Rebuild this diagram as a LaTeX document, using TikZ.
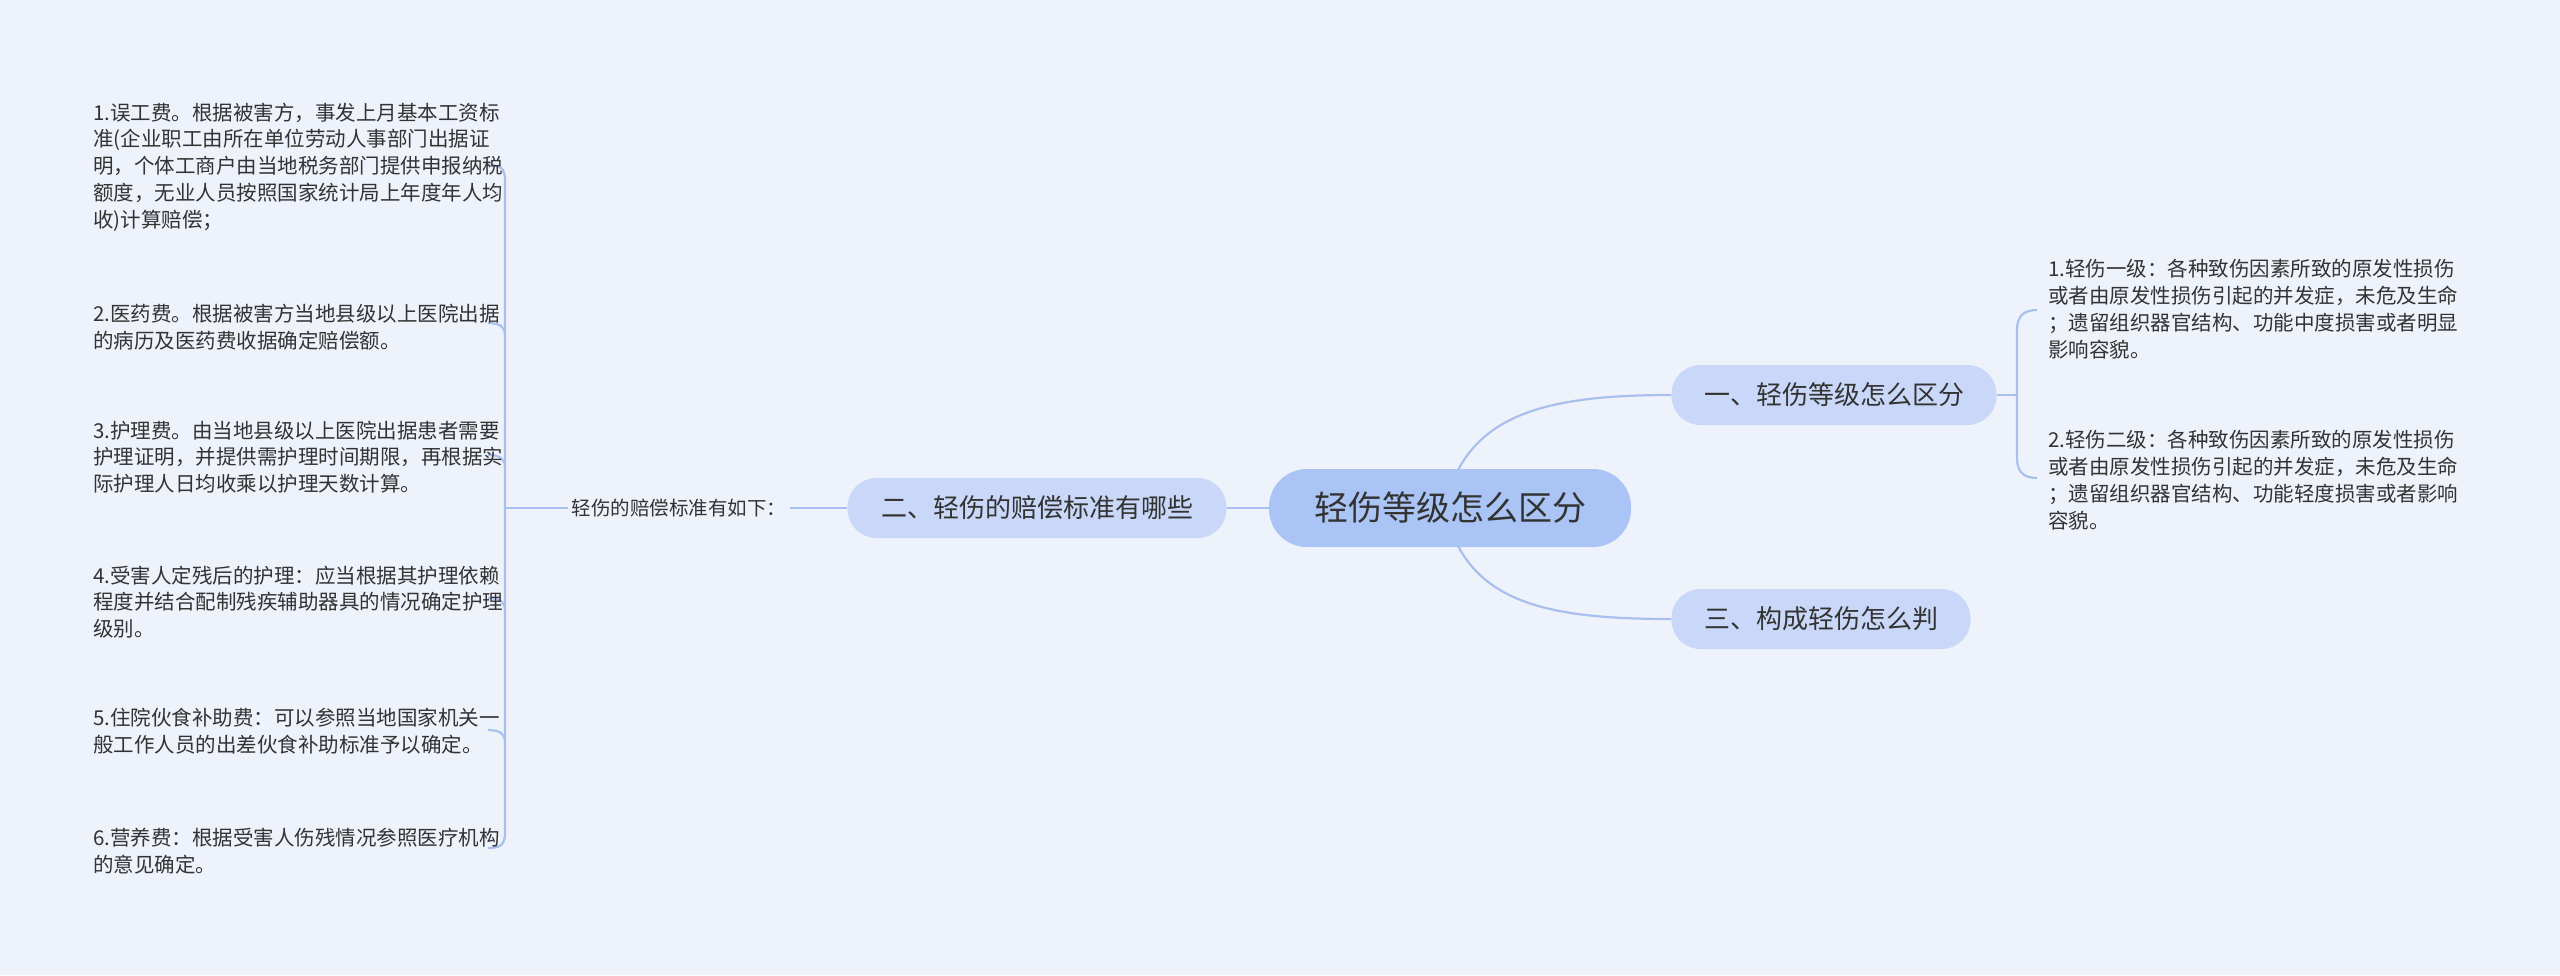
\documentclass[tikz,border=0pt]{standalone}
\usepackage{fontspec}
\setmainfont{Noto Sans CJK SC}
\begin{document}
\begin{tikzpicture}[x=1pt,y=-1pt,
  conn/.style={draw=lineblue,line width=2.2pt},
  topic/.style={fill=nodeblue,rounded corners=29pt,minimum width=#1,minimum height=60pt,text=textc,font=\fontsize{26}{30}\selectfont},
  leaf/.style={anchor=west,align=left,text=textc,font=\fontsize{20.5}{26.8}\selectfont,inner sep=0pt}]
\definecolor{bg}{HTML}{EEF2FB}
\definecolor{lineblue}{HTML}{A9C0EE}
\definecolor{nodeblue}{HTML}{C9D8F8}
\definecolor{rootblue}{HTML}{AAC4F6}
\definecolor{textc}{HTML}{333333}
\fill[bg] (0,0) rectangle (2560,975);
\useasboundingbox (0,0) rectangle (2560,975);
\node[fill=rootblue,rounded corners=38pt,minimum width=362pt,minimum height=78pt,text=textc,font=\fontsize{34}{38}\selectfont] (root) at (1450,508) {轻伤等级怎么区分};
\node[topic=325pt] (n1) at (1834,395) {一、轻伤等级怎么区分};
\node[topic=299pt] (n3) at (1821,619) {三、构成轻伤怎么判};
\node[topic=379pt] (n2) at (1037,508) {二、轻伤的赔偿标准有哪些};
\node[text=textc,font=\fontsize{19.5}{24}\selectfont,inner sep=4pt] (lab) at (679,508) {轻伤的赔偿标准有如下：};
\coordinate (r1) at (1458,470);
\coordinate (r3) at (1458,546);
\draw[conn] (r1) .. controls (1490,410) and (1560,395) .. (n1.west);
\draw[conn] (r3) .. controls (1490,606) and (1560,619) .. (n3.west);
\draw[conn] (root.west) -- (n2.east);
\draw[conn] (n2.west) -- (lab.east);
% left bracket
\coordinate (lb) at (505,508);
\draw[conn] (lab.west) -- (lb);
\draw[conn] (488,165) .. controls (500,165) and (505,168) .. (505,180) -- (505,833) .. controls (505,845) and (500,848) .. (488,848);
\foreach \y in {323,455,598,730}{
  \draw[conn] (488,\y) .. controls (500,\y) and (505,\y+4) .. (505,\y+12);
}
% right bracket
\draw[conn] (n1.east) -- (2017,395);
\draw[conn] (2037,310) .. controls (2022,310) and (2017,318) .. (2017,330) -- (2017,458) .. controls (2017,470) and (2022,478) .. (2037,478);
% leaves
\node[leaf] (l1) at (93,167) {1.误工费。根据被害方，事发上月基本工资标\\准(企业职工由所在单位劳动人事部门出据证\\明，个体工商户由当地税务部门提供申报纳税\\额度，无业人员按照国家统计局上年度年人均\\收)计算赔偿；};
\node[leaf] (l2) at (93,327) {2.医药费。根据被害方当地县级以上医院出据\\的病历及医药费收据确定赔偿额。};
\node[leaf] (l3) at (93,457) {3.护理费。由当地县级以上医院出据患者需要\\护理证明，并提供需护理时间期限，再根据实\\际护理人日均收乘以护理天数计算。};
\node[leaf] (l4) at (93,602) {4.受害人定残后的护理：应当根据其护理依赖\\程度并结合配制残疾辅助器具的情况确定护理\\级别。};
\node[leaf] (l5) at (93,731) {5.住院伙食补助费：可以参照当地国家机关一\\般工作人员的出差伙食补助标准予以确定。};
\node[leaf] (l6) at (93,851) {6.营养费：根据受害人伤残情况参照医疗机构\\的意见确定。};
\node[leaf] (r1t) at (2048,309) {1.轻伤一级：各种致伤因素所致的原发性损伤\\或者由原发性损伤引起的并发症，未危及生命\\；遗留组织器官结构、功能中度损害或者明显\\影响容貌。};
\node[leaf] (r2t) at (2048,480) {2.轻伤二级：各种致伤因素所致的原发性损伤\\或者由原发性损伤引起的并发症，未危及生命\\；遗留组织器官结构、功能轻度损害或者影响\\容貌。};
\end{tikzpicture}
\end{document}
